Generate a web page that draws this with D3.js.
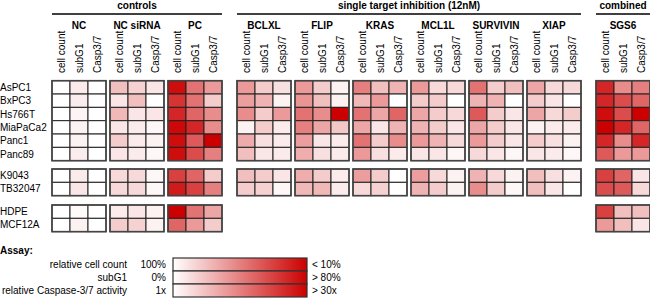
<!DOCTYPE html>
<html><head><meta charset="utf-8">
<script src="https://cdn.jsdelivr.net/npm/d3@7"></script>
<style>body{margin:0;background:#fff}svg{display:block;font-family:Arial,"Liberation Sans",sans-serif}</style>
</head><body><svg id="c" width="650" height="299"></svg>
<script>
// ---- data ----
const rows = ["AsPC1","BxPC3","Hs766T","MiaPaCa2","Panc1","Panc89","K9043","TB32047","HDPE","MCF12A"];
const rowSection = [0,0,0,0,0,0,1,1,2,2];
const metrics = ["cell count","subG1","Casp3/7"];
const groups = ["NC","NC siRNA","PC","BCLXL","FLIP","KRAS","MCL1L","SURVIVIN","XIAP","SGS6"];
const superGroups = ["controls","single target inhibition (12nM)","combined"];
const groupSuper = [0,0,0,1,1,1,1,1,1,2];
// intensity 0 (white) .. 1 (full red); null = not measured
const vNC = [[0,.08,0],[0,.07,0],[0,.04,0],[0,.05,0],[0,.05,0],[0,.07,0],[0,.08,0],[0,.1,0],[0,.02,0],[0,.05,0]];
const vNCsiRNA = [[.25,.18,.1],[.1,.25,0],[.28,.1,.1],[.1,.08,.03],[.2,.08,.05],[.1,.08,.03],[.15,.15,.03],[.15,.15,.03],[.08,.1,.05],[.2,.18,.05]];
const vPC = [[.95,.55,.4],[.8,.55,.2],[.85,.6,.45],[.97,.85,.45],[.95,.65,1],[.95,.7,.5],[.75,.6,.2],[.9,.75,.5],[1,.55,.35],[.6,.4,.2]];
const vBCLXL = [[.4,.2,.12],[.38,.3,.05],[.45,.2,.4],[.05,.2,.08],[.33,.12,.08],[.25,.1,.08],[.25,.2,.1],[.2,.18,.03],null,null];
const vFLIP = [[.4,.2,.05],[.42,.25,.05],[.55,.45,1],[.5,.35,.22],[.38,.1,.08],[.32,.12,.08],[.32,.2,.08],[.28,.28,.08],null,null];
const vKRAS = [[.5,.25,.3],[.28,.4,0],[.55,.35,.6],[.35,.1,.3],[.55,.2,.45],[.4,.12,.08],[.38,.2,0],[.15,.18,0],null,null];
const vMCL1L = [[.4,.15,.15],[.2,.2,0],[.35,.2,.15],[.3,.2,.1],[.4,.3,.15],[.1,.1,.03],[.38,.15,.05],[.3,.2,.05],null,null];
const vSURVIVIN = [[.55,.2,.25],[.3,.3,0],[.65,.2,.1],[.35,.2,.1],[.4,.2,.1],[.15,.1,.03],[.3,.15,.05],[.45,.2,.03],null,null];
const vXIAP = [[.35,.15,.15],[.2,.1,0],[.35,.15,.2],[.05,.08,.08],[.2,.12,.05],[.1,.08,.03],[.25,.12,.05],[.25,.1,0],null,null];
const vSGS6 = [[.85,.45,.5],[.85,.7,.6],[.95,.7,1],[1,.85,.6],[.85,.45,.85],[.65,.4,.4],[.75,.6,.1],[.7,.65,.15],[.75,.25,.25],[.4,.25,.1]];
const groupValues = [vNC,vNCsiRNA,vPC,vBCLXL,vFLIP,vKRAS,vMCL1L,vSURVIVIN,vXIAP,vSGS6];
const legendLabels = ["relative cell count","subG1","relative Caspase-3/7 activity"];
const legendLow = ["100%","0%","1x"];
const legendHigh = ["< 10%","> 80%","> 30x"];

// ---- layout ----
const svg = d3.select("#c");
const x0 = 52, blockW = 54, gap = 4, superGap = 15;
const blockX = groups.map((g,i)=> x0 + i*(blockW+gap) + groupSuper[i]*(superGap-gap));
const xc = d3.scaleBand().domain(metrics).range([0,blockW]);
const sectionTop = [80.7,169,205], rowH = 13.33;
const secIdx = rows.map((r,i)=> rows.slice(0,i).filter((_,j)=>rowSection[j]===rowSection[i]).length);
const yRow = i => sectionTop[rowSection[i]] + secIdx[i]*rowH;
const color = d3.scaleLinear().domain([0,1]).range(["#ffffff","#cc0000"]).interpolate(d3.interpolateRgb);

// super-group headers
superGroups.forEach((s,k)=>{
  const idx = groups.map((g,i)=>i).filter(i=>groupSuper[i]===k);
  const a = blockX[idx[0]], b = blockX[idx[idx.length-1]]+blockW;
  svg.append("text").attr("x",(a+b)/2).attr("y",9).attr("text-anchor","middle")
    .attr("font-size",10).attr("font-weight","bold").text(s);
  svg.append("line").attr("x1",a).attr("x2",b).attr("y1",14).attr("y2",14)
    .attr("stroke","#000").attr("stroke-width",1.3);
});
// group headers and column labels
groups.forEach((g,i)=>{
  svg.append("text").attr("x",blockX[i]+blockW/2).attr("y",29).attr("text-anchor","middle")
    .attr("font-size",10).attr("font-weight","bold").text(g);
  metrics.forEach(m=>{
    const cx = blockX[i]+xc(m)+xc.bandwidth()/2+3.5;
    svg.append("text").attr("transform",`translate(${cx},73) rotate(-90)`)
      .attr("font-size",10).text(m);
  });
});
// row labels
rows.forEach((r,i)=>{
  svg.append("text").attr("x",0).attr("y",yRow(i)+rowH/2+3.5).attr("font-size",10).text(r);
});
// cells
groups.forEach((g,gi)=>{
  const vals = groupValues[gi];
  const G = svg.append("g");
  [0,1,2].forEach(sec=>{
    const ri = rows.map((r,i)=>i).filter(i=>rowSection[i]===sec && vals[i]);
    if(!ri.length) return;
    ri.forEach(i=>{
      metrics.forEach((m,mi)=>{
        G.append("rect").attr("x",blockX[gi]+xc(m)).attr("y",yRow(i))
          .attr("width",xc.bandwidth()).attr("height",rowH)
          .attr("fill",color(vals[i][mi])).attr("stroke","#222").attr("stroke-width",1);
      });
    });
    G.append("rect").attr("x",blockX[gi]).attr("y",yRow(ri[0]))
      .attr("width",blockW).attr("height",rowH*ri.length)
      .attr("fill","none").attr("stroke","#444").attr("stroke-width",1.6);
  });
});
// legend
svg.append("text").attr("x",0).attr("y",254).attr("font-size",10).attr("font-weight","bold").text("Assay:");
const defs = svg.append("defs");
const grad = defs.append("linearGradient").attr("id","lg");
grad.append("stop").attr("offset","0%").attr("stop-color",color(0));
grad.append("stop").attr("offset","100%").attr("stop-color",color(1));
const lgX = 173, lgW = 134, lgY = 258, lgH = 13;
legendLabels.forEach((l,i)=>{
  const y = lgY + i*lgH;
  svg.append("text").attr("x",127).attr("y",y+lgH/2+3.5).attr("text-anchor","end").attr("font-size",10).text(l);
  svg.append("text").attr("x",166).attr("y",y+lgH/2+3.5).attr("text-anchor","end").attr("font-size",10).text(legendLow[i]);
  svg.append("rect").attr("x",lgX).attr("y",y).attr("width",lgW).attr("height",lgH)
    .attr("fill","url(#lg)").attr("stroke","#333").attr("stroke-width",1.2);
  svg.append("text").attr("x",312).attr("y",y+lgH/2+3.5).attr("font-size",10).text(legendHigh[i]);
});
</script></body></html>
